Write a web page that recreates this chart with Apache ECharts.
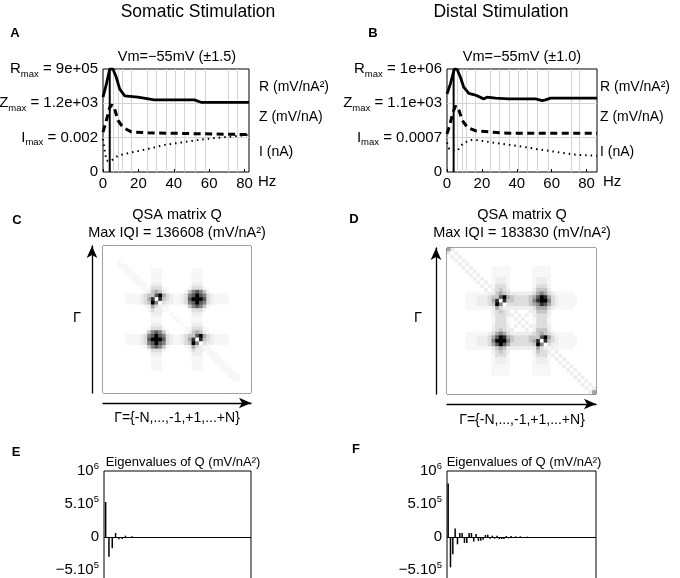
<!DOCTYPE html>
<html>
<head>
<meta charset="utf-8">
<script src="https://cdn.jsdelivr.net/npm/echarts@6/dist/echarts.min.js"></script>
<style>
html, body { margin: 0; padding: 0; background: #fff; }
#chart { width: 680px; height: 578px; }
</style>
</head>
<body>
<div id="chart"></div>
<script>
var FONT = '"Liberation Sans", Arial, Helvetica, sans-serif';

// ---- A / B : normalised R, Z, I against frequency (Hz) ----
var hzTicks = [0, 20, 40, 60, 80];
var gridHz = [6, 8.5, 11, 16, 25, 30, 35.5, 41, 46, 52, 58, 71, 76];

var somaRHz = [0, 1.9, 3.8, 5.6, 7.5, 9.4, 12.2, 19.7, 29, 51.6, 55.4, 82.5];
var somaR   = [2.18, 2.56, 3.0, 3.0, 2.76, 2.42, 2.22, 2.18, 2.1, 2.1, 2.03, 2.03];
var somaZHz = [0, 1.9, 3.8, 5.1, 6.6, 8.5, 11.3, 16, 25.4, 82.5];
var somaZ   = [1.16, 1.5, 1.88, 1.96, 1.83, 1.5, 1.3, 1.17, 1.14, 1.09];
var somaIHz = [0, 1, 2, 4.7, 8.5, 16, 25.4, 34.8, 44.2, 53.5, 62.9, 72.3, 82.5];
var somaI   = [0.96, 0.62, 0.33, 0.33, 0.48, 0.57, 0.67, 0.79, 0.86, 0.93, 0.99, 1.03, 1.08];
var somaRes = 3.8;

var distRHz = [0, 1.9, 4.2, 5.8, 7.7, 9.6, 12.5, 16.3, 21, 23, 27.8, 35.4, 50.8, 54.6, 56.5, 59.4, 86];
var distR   = [2.27, 2.56, 3.0, 2.99, 2.76, 2.47, 2.29, 2.24, 2.13, 2.18, 2.15, 2.13, 2.13, 2.08, 2.1, 2.15, 2.15];
var distZHz = [0, 1.5, 3.4, 5, 6.9, 8.8, 11.7, 16.5, 26, 35.6, 86];
var distZ   = [1.11, 1.35, 1.74, 1.93, 1.79, 1.5, 1.3, 1.2, 1.16, 1.13, 1.13];
var distIHz = [0, 1.3, 3.2, 6.1, 9, 12.8, 16.7, 26.2, 35.8, 45.4, 55, 64.6, 74.2, 86];
var distI   = [0.86, 0.67, 0.62, 0.63, 0.82, 0.93, 0.93, 0.86, 0.79, 0.72, 0.64, 0.57, 0.5, 0.47];
var distRes = 3.8;

var somaMax = ['0', 'I|0.002', 'Z|1.2e+03', 'R|9e+05'];
var distMax = ['0', 'I|0.0007', 'Z|1.1e+03', 'R|1e+06'];
var unitNames = ['I (nA)', 'Z (mV/nA)', 'R (mV/nA\u00b2)'];
var unitPos = [0.58, 1.6, 2.48];

// ---- C / D : QSA matrix, grey level 0..9 per cell, row 0 at the top ----
var matrixC = [
  '0000000000 0000000000 0000000000 0000000000',
  '0000000000 0000000000 0000000000 0000000000',
  '0000000000 0000000000 0000000000 0000000000',
  '0000000000 0000000000 0000000000 0000000000',
  '0000100000 0000000000 0000000000 0000000000',
  '0000111000 0000000000 0000000000 0000000000',
  '0000011100 0001110000 0000111000 0000000000',
  '0000001110 0001110000 0000111000 0000000000',
  '0000000111 0001110000 0000111000 0000000000',
  '0000000011 1001110000 0000111000 0000000000',
  '0000000001 1102220000 0000222000 0000000000',
  '0000000000 1113331000 0001333100 0000000000',
  '0000000000 0124542100 0014676410 0000000000',
  '0000001111 2344795321 1236797632 1111000000',
  '0000001111 2358084321 1237999732 1111000000',
  '0000001111 2349603221 1236797632 1111000000',
  '0000000000 0125321100 0014676410 0000000000',
  '0000000000 0013221100 0001333100 0000000000',
  '0000000000 0002220010 0000222000 0000000000',
  '0000000000 0001110001 0000111000 0000000000',
  '0000000000 0001110000 1000111000 0000000000',
  '0000000000 0002220000 0100222000 0000000000',
  '0000000000 0013331000 0011333100 0000000000',
  '0000000000 0146764100 0012454210 0000000000',
  '0000001111 2367976321 1234479532 1111000000',
  '0000001111 2379997321 1235808432 1111000000',
  '0000001111 2367976321 1234960322 1111000000',
  '0000000000 0146764100 0012532110 0000000000',
  '0000000000 0013331000 0001322111 0000000000',
  '0000000000 0002220000 0000222011 1000000000',
  '0000000000 0001110000 0000111001 1100000000',
  '0000000000 0001110000 0000111000 1110000000',
  '0000000000 0001110000 0000111000 0111000000',
  '0000000000 0001110000 0000111000 0011100000',
  '0000000000 0000000000 0000000000 0001110000',
  '0000000000 0000000000 0000000000 0000111000',
  '0000000000 0000000000 0000000000 0000011000',
  '0000000000 0000000000 0000000000 0000000000',
  '0000000000 0000000000 0000000000 0000000000',
  '0000000000 0000000000 0000000000 0000000000'
];
var matrixD = [
  '5200000000 0000000000 0000000000 0000000000',
  '2020000000 0000000000 0000000000 0000000000',
  '0202000000 0000000000 0000000000 0000000000',
  '0020200000 0000000000 0000000000 0000000000',
  '0002020000 0000000000 0000000000 0000000000',
  '0000202000 0011111000 0001111100 0000000000',
  '0000020200 0011111000 0001111100 0000000000',
  '0000002020 0011111000 0001111100 0000000000',
  '0000000202 0012221000 0001222100 0000000000',
  '0000000020 2012221000 0001222100 0000000000',
  '0000000002 0213331000 0001333100 0000000000',
  '0000000000 2023432000 0002444200 0000000000',
  '0000011111 1224543222 2223565321 1111000000',
  '0000011122 2344795433 3345798532 1111100000',
  '0000011122 2358084433 3346899632 1111100000',
  '0000011122 2349603333 3345687532 1111100000',
  '0000011111 1125322222 2223555321 1111000000',
  '0000000000 0023432020 0022444200 0000000000',
  '0000000000 0023332202 0202333200 0000000000',
  '0000000000 0013331020 2001333100 0000000000',
  '0000000000 0013331002 0201333100 0000000000',
  '0000000000 0023332020 2022333200 0000000000',
  '0000000000 0023432200 0202444200 0000000000',
  '0000011111 1235653222 2223454321 1111000000',
  '0000011122 2357985433 3344479532 1111100000',
  '0000011122 2369996433 3345808432 1111100000',
  '0000011122 2357975333 3334960322 1111100000',
  '0000011111 1124542222 2222532121 1111000000',
  '0000000000 0023432000 0002433202 0000000000',
  '0000000000 0013331000 0001333120 2000000000',
  '0000000000 0012221000 0001222102 0200000000',
  '0000000000 0012221000 0001222100 2020000000',
  '0000000000 0011111000 0001111100 0202000000',
  '0000000000 0011111000 0001111100 0020200000',
  '0000000000 0011111000 0001111100 0002020000',
  '0000000000 0000000000 0000000000 0000202000',
  '0000000000 0000000000 0000000000 0000020200',
  '0000000000 0000000000 0000000000 0000002020',
  '0000000000 0000000000 0000000000 0000000202',
  '0000000000 0000000000 0000000000 0000000025'
];
var greyRamp = ['#ffffff', '#f7f7f7', '#eeeeee', '#dddddd', '#c6c6c6',
                '#a8a8a8', '#838383', '#5a5a5a', '#2e2e2e', '#000000'];

// ---- E / F : eigenvalues of Q (x 1e5 mV/nA^2) ----
var eigSoma = [5.3, -3.0, -1.7, 0.6, -0.35, -0.3, 0.2, -0.15, 0.1, -0.12, -0.1, -0.1, -0.12];
var eigDist = [8.1, -4.6, -2.6, 1.3, -1.1, 0.6, 0.6, -0.9, -0.9, 0.6, 0.6, -0.7, 0.45, -0.6,
               -0.55, -0.4, 0.3, 0.35, -0.25, 0.2, -0.25, 0.2, -0.3, -0.3, -0.3, 0.15, -0.2,
               0.15, -0.1, 0.1, -0.1, 0.1, -0.1, -0.1, 0.05, -0.05];
var eigTicks = [-5e5, 0, 5e5, 1e6];
var eigTickText = ['{n|\u22125.10}{p|5}', '{n|0}', '{n|5.10}{p|5}', '{n|10}{p|6}'];

function pairs(xs, ys) {
  return xs.map(function (x, i) { return [x, ys[i]]; });
}

function cells(rows) {
  var out = [];
  rows.forEach(function (row, r) {
    var s = row.replace(/ /g, '');
    for (var c = 0; c < s.length; c++) {
      out.push([c, rows.length - 1 - r, +s[c]]);
    }
  });
  return out;
}

var idx40 = [];
for (var k = 0; k < 40; k++) idx40.push(String(k));

var subRich = {
  n: { fontSize: 15, fontFamily: FONT, color: '#000', lineHeight: 20 },
  s: { fontSize: 9.5, fontFamily: FONT, color: '#000', lineHeight: 10, verticalAlign: 'bottom' },
  p: { fontSize: 9.5, fontFamily: FONT, color: '#000', lineHeight: 10, verticalAlign: 'top' }
};

function maxLabel(list) {
  return function (v) {
    var t = list[Math.round(v)];
    if (t.indexOf('|') < 0) return '{n|' + t + '}';
    var p = t.split('|');
    return '{n|' + p[0] + '}{s|max}{n| = ' + p[1] + '}';
  };
}

function unitLabel(v) {
  var i = unitPos.indexOf(v);
  return i < 0 ? '' : unitNames[i];
}

function freqX(grid, max) {
  return {
    gridIndex: grid, type: 'value', min: 0, max: max,
    axisLine: { show: false }, splitLine: { show: false },
    axisTick: { inside: true, length: 3, customValues: hzTicks, lineStyle: { color: '#000' } },
    axisLabel: { customValues: hzTicks, fontSize: 15, margin: 4, color: '#000', fontFamily: FONT }
  };
}

function levelY(grid, labels) {
  return {
    gridIndex: grid, type: 'value', min: 0, max: 3,
    axisLine: { show: false }, axisTick: { show: false }, splitLine: { show: false },
    axisLabel: { customValues: [0, 1, 2, 3], formatter: maxLabel(labels), rich: subRich, margin: 5 }
  };
}

function unitY(grid, margin) {
  return {
    gridIndex: grid, type: 'value', position: 'right', min: 0, max: 3,
    axisLine: { show: false }, axisTick: { show: false }, splitLine: { show: false },
    axisLabel: { customValues: unitPos, formatter: unitLabel, fontSize: 14, color: '#000',
                 fontFamily: FONT, margin: margin }
  };
}

var arrowLine = {
  show: true, symbol: ['none', 'arrow'], symbolSize: [8, 12],
  lineStyle: { color: '#000', width: 1.3 }
};

function matX(grid) {
  return { gridIndex: grid, type: 'category', data: idx40, position: 'bottom', offset: 10,
           axisLine: arrowLine, axisTick: { show: false }, axisLabel: { show: false } };
}
function matY(grid) {
  return { gridIndex: grid, type: 'category', data: idx40, position: 'left', offset: 11,
           axisLine: arrowLine, axisTick: { show: false }, axisLabel: { show: false } };
}

function eigY(grid) {
  return {
    gridIndex: grid, type: 'value', min: -6.5e5, max: 1e6,
    axisLine: { show: false }, axisTick: { show: false }, splitLine: { show: false },
    axisLabel: {
      customValues: eigTicks, margin: 5, rich: subRich,
      formatter: function (v) {
        var i = eigTicks.indexOf(v);
        return i < 0 ? '' : eigTickText[i];
      }
    }
  };
}

function freqSeries(axis, rHz, r, zHz, z, iHz, iv, res) {
  var base = { type: 'line', xAxisIndex: axis, yAxisIndex: axis * 2, symbol: 'none',
               silent: true, z: 5 };
  return [
    Object.assign({}, base, {
      data: pairs(rHz, r), z: 1, lineStyle: { opacity: 0 },
      markLine: {
        silent: true, symbol: 'none', label: { show: false },
        lineStyle: { color: '#d4d4d4', width: 1, type: 'solid' },
        emphasis: { disabled: true },
        data: gridHz.map(function (f) { return { xAxis: f }; }).concat([{ yAxis: 1 }, { yAxis: 2 }])
      }
    }),
    Object.assign({}, base, { data: pairs(rHz, r), lineStyle: { color: '#000', width: 2.8 } }),
    Object.assign({}, base, { data: pairs(zHz, z), lineStyle: { color: '#000', width: 3, type: [7, 4.5] } }),
    Object.assign({}, base, { data: pairs(iHz, iv), lineStyle: { color: '#000', width: 2, type: [1.5, 4] } }),
    Object.assign({}, base, { data: [[res, 0], [res, 3]], lineStyle: { color: '#000', width: 2 } })
  ];
}

function eigSeries(axis, vals) {
  return {
    type: 'bar', xAxisIndex: axis, yAxisIndex: axis + 2, barWidth: 1.5, silent: true,
    itemStyle: { color: '#000' },
    data: vals.map(function (v, i) { return [i, v * 1e5]; }),
    markLine: {
      silent: true, symbol: 'none', label: { show: false }, emphasis: { disabled: true },
      lineStyle: { color: '#000', width: 1, type: 'solid' },
      data: [{ yAxis: 0 }]
    }
  };
}

function txt(s, x, y, size, opts) {
  opts = opts || {};
  var align = opts.align || 'center';
  return {
    type: 'text', x: x, y: y, silent: true,
    style: {
      text: s, fill: '#000',
      font: (opts.bold ? 'bold ' : '') + size + 'px ' + FONT,
      textAlign: align, align: align, textVerticalAlign: 'middle', verticalAlign: 'middle'
    }
  };
}

var box = { show: true, borderColor: '#000', borderWidth: 1, backgroundColor: 'transparent',
            outerBoundsMode: 'none' };

var chart = echarts.init(document.getElementById('chart'), null, { renderer: 'canvas' });

var series = []
  .concat(freqSeries(0, somaRHz, somaR, somaZHz, somaZ, somaIHz, somaI, somaRes))
  .concat(freqSeries(1, distRHz, distR, distZHz, distZ, distIHz, distI, distRes));

series.push({ type: 'heatmap', xAxisIndex: 2, yAxisIndex: 4, data: cells(matrixC), silent: true,
              itemStyle: { borderWidth: 0 }, emphasis: { disabled: true } });
series.push({ type: 'heatmap', xAxisIndex: 3, yAxisIndex: 5, data: cells(matrixD), silent: true,
              itemStyle: { borderWidth: 0 }, emphasis: { disabled: true } });
series.push(eigSeries(4, eigSoma));
series.push(eigSeries(5, eigDist));

chart.setOption({
  animation: false,
  backgroundColor: '#fff',
  textStyle: { fontFamily: FONT },
  grid: [
    Object.assign({ left: 103, top: 69, width: 146, height: 103 }, box),
    Object.assign({ left: 447, top: 69, width: 150, height: 103 }, box),
    Object.assign({ left: 103, top: 246, width: 148, height: 147 }, box),
    Object.assign({ left: 447, top: 248, width: 149, height: 146 }, box),
    Object.assign({ left: 104, top: 471, width: 147, height: 108.9 }, box),
    Object.assign({ left: 447, top: 471, width: 149, height: 108.9 }, box)
  ],
  xAxis: [
    freqX(0, 82.5),
    freqX(1, 86),
    matX(2),
    matX(3),
    { gridIndex: 4, type: 'value', min: -0.5, max: 44, show: false },
    { gridIndex: 5, type: 'value', min: -0.5, max: 63.5, show: false }
  ],
  yAxis: [
    levelY(0, somaMax),
    unitY(0, 10),
    levelY(1, distMax),
    unitY(1, 3),
    matY(2),
    matY(3),
    eigY(4),
    eigY(5)
  ],
  visualMap: [
    { type: 'continuous', show: false, seriesIndex: 10, min: 0, max: 9, inRange: { color: greyRamp } },
    { type: 'continuous', show: false, seriesIndex: 11, min: 0, max: 9, inRange: { color: greyRamp } }
  ],
  series: series,
  graphic: [
    txt('Somatic Stimulation', 198, 12, 17.5),
    txt('Distal Stimulation', 501, 12, 17.5),
    txt('A', 15, 33, 13, { bold: true }),
    txt('B', 373, 33, 13, { bold: true }),
    txt('Vm=\u221255mV (\u00b11.5)', 177, 57, 14.5),
    txt('Vm=\u221255mV (\u00b11.0)', 522, 57, 14.5),
    txt('Hz', 258, 182, 15, { align: 'left' }),
    txt('Hz', 603, 182, 15, { align: 'left' }),
    txt('C', 17, 220, 13, { bold: true }),
    txt('D', 354, 219, 13, { bold: true }),
    txt('QSA matrix Q', 177, 215, 14.5),
    txt('Max IQI = 136608 (mV/nA\u00b2)', 177, 233, 14.5),
    txt('QSA matrix Q', 522, 215, 14.5),
    txt('Max IQI = 183830 (mV/nA\u00b2)', 522, 233, 14.5),
    txt('\u0393', 77, 318, 14.5),
    txt('\u0393', 418, 318, 14.5),
    txt('\u0393={-N,...,-1,+1,...+N}', 177, 418, 14),
    txt('\u0393={-N,...,-1,+1,...+N}', 522, 420, 14),
    txt('E', 16, 452, 13, { bold: true }),
    txt('F', 356, 449, 13, { bold: true }),
    txt('Eigenvalues of Q (mV/nA\u00b2)', 183, 462, 13),
    txt('Eigenvalues of Q (mV/nA\u00b2)', 524, 462, 13)
  ]
});
</script>
</body>
</html>
